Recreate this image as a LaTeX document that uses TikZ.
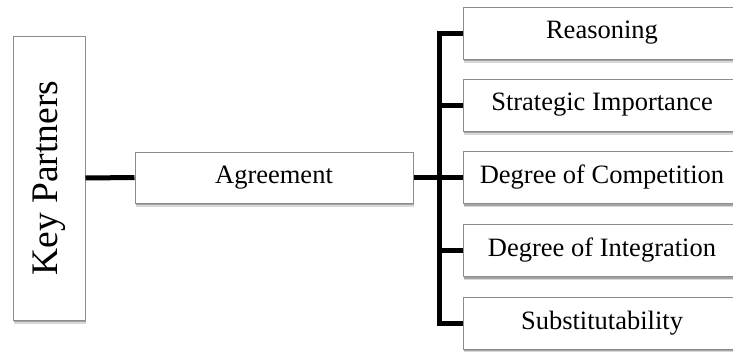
\documentclass[tikz,border=0pt]{standalone}
\usepackage{fontspec}
\setmainfont{Liberation Serif}
\usetikzlibrary{shadows}
\begin{document}
\begin{tikzpicture}[x=1pt,y=-1pt,
  softshadow/.style={
    drop shadow={shadow xshift=1.2pt,shadow yshift=-3.5pt,fill=black,opacity=0.15},
    drop shadow={shadow xshift=0.6pt,shadow yshift=-2pt,fill=black,opacity=0.25}},
  box/.style={draw=black!45,line width=1pt,fill=white,softshadow,
    inner sep=0pt,font=\fontsize{26.5}{30}\selectfont},
  leafbox/.style={box,minimum width=278pt,minimum height=52pt},
  link/.style={line width=5pt,black,line join=miter}]
\useasboundingbox (0,0) rectangle (733,351);

% main boxes
\node[box,minimum width=72pt,minimum height=284pt] (kp) at (49,178) {};
\node[rotate=90,font=\fontsize{37.5}{40}\selectfont] (kpt) at (kp.center) {Key Partners};
\node[box,minimum width=278pt,minimum height=51pt] (agr) at (274,177.5) {Agreement};

% right-hand boxes
\node[leafbox] (r1) at (602,33)    {Reasoning};
\node[leafbox] (r2) at (602,105)   {Strategic Importance};
\node[leafbox] (r3) at (602,177.5) {Degree of Competition};
\node[leafbox] (r4) at (602,250.5) {Degree of Integration};
\node[leafbox] (r5) at (602,323)   {Substitutability};

% connectors
\coordinate (bar) at (439,178);
\draw[link] (kp.east) -- (agr.west);
\draw[link] (agr.east) -- (agr.east -| bar);
\draw[link] (r1.west) -- (r1.west -| bar) -- (r5.west -| bar) -- (r5.west);
\foreach \n in {r2,r3,r4}
  \draw[link] (\n.west -| bar) -- (\n.west);
\end{tikzpicture}
\end{document}
